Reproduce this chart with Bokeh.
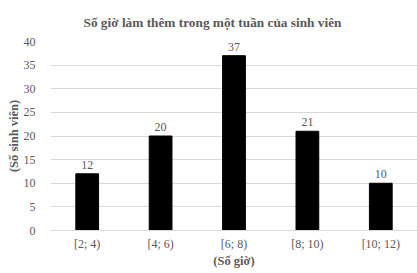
from bokeh.plotting import figure
from bokeh.models import ColumnDataSource, LabelSet, FactorRange, Range1d, SingleIntervalTicker
from bokeh.embed import file_html
from bokeh.resources import INLINE

categories = ["[2; 4)", "[4; 6)", "[6; 8)", "[8; 10)", "[10; 12)"]
counts = [12, 20, 37, 21, 10]
title_text = "Số giờ làm thêm trong một tuần của sinh viên"
x_label = "(Số giờ)"
y_label = "(Số sinh viên)"

FONT = "Liberation Serif"
GREY = "#595959"

src = ColumnDataSource(dict(cat=categories, val=counts, lab=[str(v) for v in counts]))

p = figure(width=417, height=273, output_backend="svg", toolbar_location=None,
           x_range=FactorRange(*categories, range_padding=0), y_range=Range1d(0, 40),
           min_border_left=50, min_border_right=0, min_border_top=41, min_border_bottom=43)
p.outline_line_color = None
p.background_fill_color = "white"
p.border_fill_color = "white"

p.vbar(x="cat", top="val", width=0.31, color="black", source=src)
p.add_layout(LabelSet(x="cat", y="val", text="lab", source=src, text_align="center",
                      text_baseline="bottom", y_offset=5, text_font=FONT,
                      text_font_size="12px", text_color=GREY))

p.title.text = title_text
p.title.align = "left"
p.title.text_font = FONT
p.title.text_font_size = "13.3px"
p.title.text_color = GREY
p.title.offset = 33
p.title.standoff = 23

p.yaxis.ticker = SingleIntervalTicker(interval=5)
p.ygrid.ticker = SingleIntervalTicker(interval=5)
p.ygrid.grid_line_color = "#d9d9d9"
p.xgrid.grid_line_color = None
p.yaxis.axis_line_color = None
p.yaxis.major_tick_line_color = None
p.yaxis.minor_tick_line_color = None
p.xaxis.axis_line_color = "#d9d9d9"
p.xaxis.major_tick_line_color = None
p.xaxis.minor_tick_line_color = None
p.xaxis.major_tick_out = 0
p.xaxis.major_tick_in = 0
p.yaxis.major_tick_out = 0
p.yaxis.major_tick_in = 0

for ax in (p.xaxis[0], p.yaxis[0]):
    ax.major_label_text_font = FONT
    ax.major_label_text_font_size = "12px"
    ax.major_label_text_color = GREY
    ax.axis_label_text_font = FONT
    ax.axis_label_text_font_size = "12.5px"
    ax.axis_label_text_font_style = "bold"
    ax.axis_label_text_color = GREY

p.xaxis.axis_label = x_label
p.yaxis.axis_label = y_label
p.yaxis.major_label_standoff = 11
p.xaxis.major_label_standoff = 6
p.xaxis.axis_label_standoff = 0
p.yaxis.axis_label_standoff = 0

open("out.html", "w").write(file_html(p, INLINE))
